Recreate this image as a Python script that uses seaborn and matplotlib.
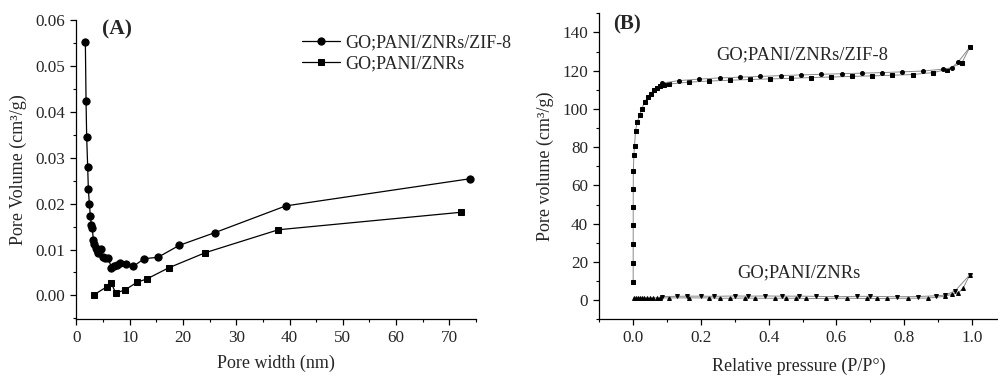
import numpy as np
import pandas as pd
import matplotlib
matplotlib.use("Agg")
import matplotlib.pyplot as plt
from matplotlib.ticker import MultipleLocator
import seaborn as sns

# ---------------- Panel A data (pore size distribution) ----------------
zif_width = [1.69, 1.82, 1.94, 2.13, 2.25, 2.44, 2.63, 2.82, 3.0, 3.19, 3.38, 3.63,
             3.82, 4.13, 4.57, 5.0, 5.44, 6.0, 6.56, 7.0, 7.56, 8.19, 9.31, 10.69,
             12.69, 15.3, 19.3, 26.05, 39.3, 73.8]
zif_volume = [0.0552, 0.0423, 0.0344, 0.0279, 0.0232, 0.0199, 0.0173, 0.0153, 0.0146,
              0.0120, 0.0112, 0.0103, 0.0098, 0.0093, 0.0101, 0.0084, 0.0082, 0.0082,
              0.0060, 0.0064, 0.0067, 0.0071, 0.0068, 0.0063, 0.0080, 0.0083, 0.0109,
              0.0137, 0.0195, 0.0254]
znr_width = [3.25, 5.75, 6.56, 7.38, 9.13, 11.44, 13.25, 17.31, 24.18, 37.9, 72.1]
znr_volume = [0.0001, 0.0019, 0.0027, 0.0005, 0.0012, 0.0029, 0.0036, 0.0060, 0.0093,
              0.0143, 0.0181]

# ---------------- Panel B data (N2 isotherms) ----------------
zif_ads_p = [0.00001, 0.00002, 0.00004, 0.00007, 0.0001, 0.0002, 0.0005, 0.002, 0.004,
             0.007, 0.012, 0.019, 0.026, 0.034, 0.044, 0.052, 0.062, 0.070, 0.080, 0.09,
             0.105, 0.165, 0.225, 0.285, 0.345, 0.405, 0.465, 0.525, 0.585, 0.645,
             0.705, 0.765, 0.825, 0.885, 0.925, 0.97, 0.994]
zif_ads_v = [9.6, 19.4, 29.4, 39.5, 48.6, 58.0, 67.3, 75.7, 80.6, 88.6, 93.0, 96.7,
             100.2, 103.7, 106.3, 108.0, 109.8, 110.8, 111.9, 112.5, 113.0, 114.0,
             114.6, 115.0, 115.4, 115.7, 116.0, 116.4, 116.7, 117.0, 117.3, 117.6,
             118.0, 119.0, 120.6, 124.0, 132.3]
zif_des_p = [0.994, 0.96, 0.94, 0.915, 0.855, 0.795, 0.735, 0.675, 0.615, 0.555, 0.495,
             0.435, 0.375, 0.315, 0.255, 0.195, 0.135, 0.085]
zif_des_v = [132.3, 124.7, 121.5, 120.8, 119.8, 119.4, 119.0, 118.7, 118.4, 118.1,
             117.8, 117.4, 117.0, 116.6, 116.2, 115.6, 114.8, 113.5]

znr_ads_p = [0.002, 0.008, 0.014, 0.02, 0.026, 0.032, 0.04, 0.05, 0.06, 0.07, 0.08,
             0.105, 0.165, 0.225, 0.255, 0.285, 0.33, 0.36, 0.42, 0.45, 0.48, 0.51,
             0.57, 0.63, 0.69, 0.72, 0.75, 0.81, 0.87, 0.92, 0.94, 0.96, 0.974, 0.994]
znr_ads_v = [0.9, 1.0, 1.0, 1.0, 1.1, 1.1, 1.1, 1.1, 1.2, 1.2, 1.2, 1.2, 1.2, 1.2,
             1.0, 1.0, 1.1, 1.0, 1.0, 1.0, 1.0, 0.9, 0.9, 1.0, 0.9, 0.9, 0.9, 1.0, 1.1,
             2.0, 3.1, 3.8, 6.3, 13.3]
znr_des_p = [0.994, 0.95, 0.92, 0.895, 0.84, 0.78, 0.7, 0.66, 0.6, 0.54, 0.49, 0.44,
             0.39, 0.34, 0.30, 0.24, 0.2, 0.16, 0.13, 0.085]
znr_des_v = [13.3, 4.8, 2.6, 2.3, 1.9, 1.8, 2.0, 2.0, 1.8, 2.0, 2.1, 2.1, 2.2, 2.1,
             2.2, 2.0, 2.1, 2.1, 2.0, 1.9]

sns.set_style("ticks")
plt.rcParams["font.family"] = ["Liberation Serif", "DejaVu Serif"]
plt.rcParams["mathtext.fontset"] = "stix"

fig = plt.figure(figsize=(9.98, 3.76), dpi=100)
axA = fig.add_axes([0.0765, 0.1508, 0.4005, 0.7962])
axB = fig.add_axes([0.6005, 0.1508, 0.3995, 0.8138])

# ---------- Panel A ----------
sns.lineplot(x=zif_width, y=zif_volume, ax=axA, sort=False, estimator=None,
             color="black", marker="o", markersize=5.2, markeredgecolor="black",
             linewidth=0.9, label="GO;PANI/ZNRs/ZIF-8")
sns.lineplot(x=znr_width, y=znr_volume, ax=axA, sort=False, estimator=None,
             color="black", marker="s", markersize=4.6, markeredgecolor="black",
             linewidth=0.9, label="GO;PANI/ZNRs")
axA.set_xlim(0, 75)
axA.set_ylim(-0.0052, 0.06)
axA.xaxis.set_major_locator(MultipleLocator(10))
axA.xaxis.set_minor_locator(MultipleLocator(5))
axA.yaxis.set_major_locator(MultipleLocator(0.01))
axA.yaxis.set_minor_locator(MultipleLocator(0.005))
axA.yaxis.set_major_formatter(matplotlib.ticker.FormatStrFormatter("%.2f"))
axA.set_xlabel("Pore width (nm)", fontsize=13, labelpad=6)
axA.set_ylabel("Pore Volume (cm³/g)", fontsize=13, labelpad=6)
leg = axA.legend(loc="upper left", bbox_to_anchor=(0.547, 0.975), frameon=False,
                 fontsize=13, handlelength=2.1, handletextpad=0.3,
                 labelspacing=0.2, borderaxespad=0)
axA.text(0.065, 1.0, "(A)", transform=axA.transAxes, fontsize=15.5,
         fontweight="bold", va="top", ha="left")

# ---------- Panel B ----------
for px, vy, mk in [(zif_ads_p, zif_ads_v, "s"), (zif_des_p, zif_des_v, "o"),
                   (znr_ads_p, znr_ads_v, "^"), (znr_des_p, znr_des_v, "v")]:
    sns.lineplot(x=px, y=vy, ax=axB, sort=False, estimator=None, color="#8a8a8a",
                 linewidth=0.7, marker=mk, markersize=2.8, markerfacecolor="black",
                 markeredgecolor="black")
axB.set_xlim(-0.1, 1.077)
axB.set_ylim(-10, 150)
axB.xaxis.set_major_locator(MultipleLocator(0.2))
axB.xaxis.set_minor_locator(MultipleLocator(0.1))
axB.yaxis.set_major_locator(MultipleLocator(20))
axB.yaxis.set_minor_locator(MultipleLocator(10))
axB.xaxis.set_major_formatter(matplotlib.ticker.FormatStrFormatter("%.1f"))
axB.set_xlabel("Relative pressure (P/P°)", fontsize=13, labelpad=8)
axB.set_ylabel("Pore volume (cm³/g)", fontsize=13, labelpad=6)
axB.text(0.5, 128, "GO;PANI/ZNRs/ZIF-8", fontsize=13.4, ha="center", va="center")
axB.text(0.49, 14, "GO;PANI/ZNRs", fontsize=13.4, ha="center", va="center")
axB.text(0.035, 0.995, "(B)", transform=axB.transAxes, fontsize=15,
         fontweight="bold", va="top", ha="left")

for ax in (axA, axB):
    sns.despine(ax=ax)
    ax.tick_params(which="major", direction="out", length=4.5, width=0.9,
                   labelsize=12.3, color="black")
    ax.tick_params(which="minor", direction="out", length=2.5, width=0.8,
                   color="black")
    for s in ("left", "bottom"):
        ax.spines[s].set_linewidth(0.9)
        ax.spines[s].set_color("black")

fig.savefig("out.png", dpi=100)
